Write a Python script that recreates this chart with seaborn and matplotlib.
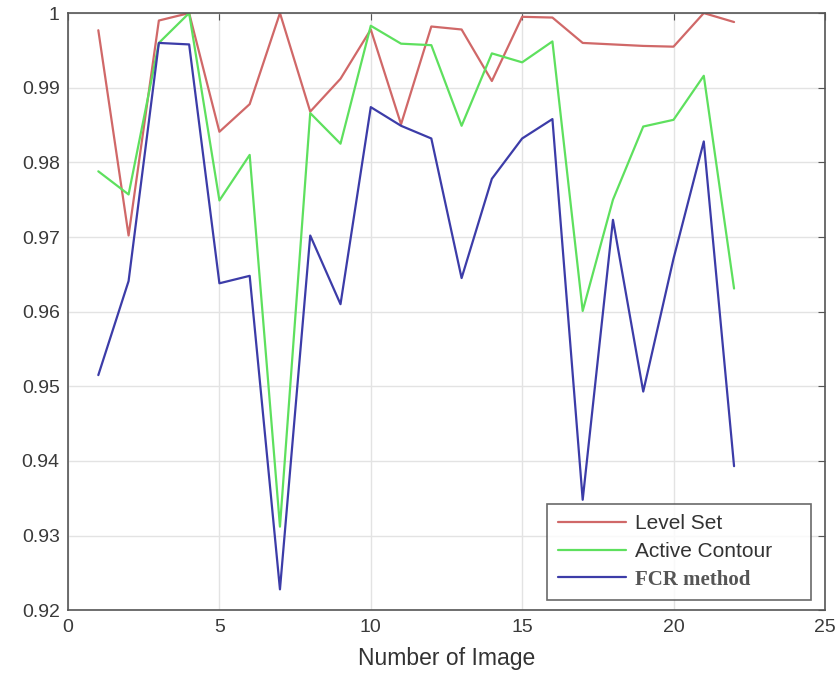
import numpy as np
import pandas as pd
import matplotlib
matplotlib.use('Agg')
import matplotlib.pyplot as plt
import seaborn as sns

# values
images = list(range(1, 23))
level_set = [0.9977, 0.9702, 0.9990, 1.0000, 0.9841, 0.9878, 1.0000, 0.9868, 0.9912, 0.9978, 0.9851,
             0.9982, 0.9978, 0.9909, 0.9995, 0.9994, 0.9960, 0.9958, 0.9956, 0.9955, 1.0000, 0.9988]
active_contour = [0.9788, 0.9757, 0.9960, 1.0000, 0.9749, 0.9810, 0.9312, 0.9866, 0.9825, 0.9983, 0.9959,
                  0.9957, 0.9849, 0.9946, 0.9934, 0.9962, 0.9601, 0.9750, 0.9848, 0.9857, 0.9916, 0.9631]
fcr_method = [0.9515, 0.9641, 0.9960, 0.9958, 0.9638, 0.9648, 0.9228, 0.9702, 0.9610, 0.9874, 0.9849,
              0.9832, 0.9645, 0.9778, 0.9832, 0.9858, 0.9348, 0.9723, 0.9493, 0.9671, 0.9828, 0.9393]
methods = ['Level Set', 'Active Contour', 'FCR method']
colors = ['#d06868', '#5ee05e', '#3c3ca8']

df = pd.DataFrame({
    'image': images * 3,
    'value': level_set + active_contour + fcr_method,
    'method': [m for m in methods for _ in images],
})

sns.set_style('white')
plt.rcParams['font.family'] = ['Liberation Sans', 'DejaVu Sans']

fig = plt.figure(figsize=(8.4, 6.88), dpi=100)
ax = fig.add_axes([0.081, 0.113, 0.901, 0.868])

sns.lineplot(data=df, x='image', y='value', hue='method', hue_order=methods,
             palette=colors, linewidth=1.6, ax=ax)

ax.set_xlim(0, 25)
ax.set_ylim(0.92, 1.0)
ax.set_xticks([0, 5, 10, 15, 20, 25])
ax.set_yticks(np.round(np.arange(0.92, 1.0001, 0.01), 2))
ax.set_yticklabels(['0.92', '0.93', '0.94', '0.95', '0.96', '0.97', '0.98', '0.99', '1'])
ax.grid(True, color='#e3e3e3', linewidth=1.0)
ax.tick_params(direction='in', length=5, labelsize=14, colors='#555555', top=True, right=True, pad=6)
ax.tick_params(axis='both', labelcolor='#3a3a3a')
for s in ax.spines.values():
    s.set_color('#555555')
    s.set_linewidth(1.2)
ax.set_xlabel('Number of Image', fontsize=16.5, color='#333333', labelpad=8)
ax.set_ylabel('')

# legend box stretched to the width it has in the reference
leg = ax.legend(loc='lower left', bbox_to_anchor=(0.633, 0.017, 0.349, 0.16), mode='expand',
                frameon=True, fancybox=False, fontsize=15, handlelength=3.3, handletextpad=0.4,
                borderpad=0.5, labelspacing=0.42, borderaxespad=0)
leg.get_frame().set_edgecolor('#444444')
leg.get_frame().set_linewidth(1.2)
for line in leg.get_lines():
    line.set_linewidth(1.6)
for t in leg.get_texts():
    t.set_color('#333333')
fcr_text = leg.get_texts()[2]
fcr_text.set_family(['Liberation Serif', 'DejaVu Serif'])
fcr_text.set_fontweight('bold')
fcr_text.set_color('#555555')

fig.savefig('out.png', dpi=100)
